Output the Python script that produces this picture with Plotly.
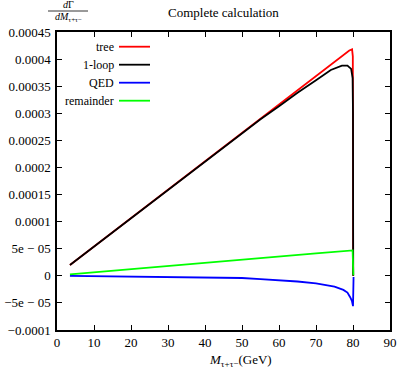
import plotly.graph_objects as go

# | data section |
tree_x = [3.5, 10, 20, 30, 40, 50, 60, 70, 75, 79.0, 79.75, 79.95, 80.05]
tree_y = [2.0e-5, 5.4e-5, 1.07e-4, 1.59e-4, 2.12e-4, 2.64e-4, 3.17e-4,
          3.69e-4, 3.95e-4, 4.16e-4, 4.18e-4, 4.05e-4, 0.0]

loop_x = [3.5, 10, 20, 30, 40, 50, 55, 60, 65, 70, 74, 77, 78.5, 79.5,
          79.9, 80.0, 80.05]
loop_y = [2.0e-5, 5.4e-5, 1.07e-4, 1.59e-4, 2.12e-4, 2.64e-4, 2.89e-4,
          3.13e-4, 3.38e-4, 3.61e-4, 3.80e-4, 3.88e-4, 3.88e-4, 3.82e-4,
          3.65e-4, 3.0e-4, 0.0]

qed_x = [3.5, 10, 20, 30, 40, 50, 55, 60, 65, 70, 73, 75, 77.4, 78.5,
         79.2, 79.7, 80.0, 80.15]
qed_y = [0.0, -0.05e-5, -0.1e-5, -0.15e-5, -0.2e-5, -0.4e-5, -0.6e-5,
         -0.8e-5, -1.05e-5, -1.4e-5, -1.7e-5, -2.0e-5, -2.6e-5, -3.1e-5,
         -3.9e-5, -4.6e-5, -5.6e-5, -0.2e-5]

rem_x = [3.5, 10, 20, 30, 40, 50, 60, 70, 79.9, 80.1]
rem_y = [0.26e-5, 0.65e-5, 1.25e-5, 1.85e-5, 2.45e-5, 3.05e-5, 3.6e-5,
         4.15e-5, 4.7e-5, 0.1e-5]

series_names = ["tree", "1-loop", "QED", "remainder"]
series_colors = ["#ff0000", "#000000", "#0000ff", "#00ff00"]

x_ticks = [0, 10, 20, 30, 40, 50, 60, 70, 80, 90]
y_ticks = [-0.0001, -0.00005, 0, 0.00005, 0.0001, 0.00015, 0.0002,
           0.00025, 0.0003, 0.00035, 0.0004, 0.00045]
y_ticktext = ["\u22120.0001", "\u22125e \u2212 05", "0", "5e \u2212 05",
              "0.0001", "0.00015", "0.0002", "0.00025", "0.0003",
              "0.00035", "0.0004", "0.00045"]

# | layout helpers (pixel -> paper) |
W, H = 399, 372
L, R, T, B = 57, 390, 32, 330


def px(x):
    return (x - L) / (R - L)


def py(y):
    return (B - y) / (B - T)


FONT = "Liberation Serif, Times New Roman, serif"

fig = go.Figure()
for xs, ys, name, color in zip(
    [tree_x, loop_x, qed_x, rem_x],
    [tree_y, loop_y, qed_y, rem_y],
    series_names,
    series_colors,
):
    fig.add_trace(
        go.Scatter(
            x=xs, y=ys, name=name, mode="lines",
            line={"color": color, "width": 1.8},
            showlegend=False,
        )
    )

# gnuplot-style key: text right, sample line on the right
annotations = []
shapes = []
for i, (name, color) in enumerate(zip(series_names, series_colors)):
    yy = 46.7 + i * 18
    annotations.append(dict(
        x=px(116), y=py(yy), xref="paper", yref="paper", text=name,
        showarrow=False, xanchor="right", yanchor="middle",
        font={"family": FONT, "size": 12, "color": "black"},
    ))
    shapes.append(dict(
        type="line", xref="paper", yref="paper",
        x0=px(119), x1=px(150), y0=py(yy), y1=py(yy),
        line={"color": color, "width": 1.8},
    ))

# y label as a fraction in the top-left corner
annotations.append(dict(
    x=px(68), y=py(5), xref="paper", yref="paper", text="<i>d</i>\u0393",
    showarrow=False, xanchor="center", yanchor="middle",
    font={"family": FONT, "size": 10, "color": "black"},
))
annotations.append(dict(
    x=px(68), y=py(18), xref="paper", yref="paper",
    text="<i>dM</i><sub>\u03c4+\u03c4\u2212</sub>",
    showarrow=False, xanchor="center", yanchor="middle",
    font={"family": FONT, "size": 10, "color": "black"},
))
shapes.append(dict(
    type="line", xref="paper", yref="paper",
    x0=px(48), x1=px(88), y0=py(11), y1=py(11),
    line={"color": "black", "width": 0.8},
))
# x axis title
annotations.append(dict(
    x=px(240), y=py(360), xref="paper", yref="paper",
    text="<i>M</i><sub>\u03c4+\u03c4\u2212</sub>(GeV)",
    showarrow=False, xanchor="center", yanchor="middle",
    font={"family": FONT, "size": 13, "color": "black"},
))
annotations.append(dict(
    x=0.5, y=py(12), xref="paper", yref="paper",
    text="Complete calculation",
    showarrow=False, xanchor="center", yanchor="middle",
    font={"family": FONT, "size": 13, "color": "black"},
))

axis_common = dict(
    showgrid=False, zeroline=False, showline=True, linecolor="black",
    linewidth=1.5, mirror="ticks", ticks="inside", ticklen=5,
    tickcolor="black", tickwidth=1, automargin=False,
    tickfont={"family": FONT, "size": 13, "color": "black"},
)

fig.update_xaxes(range=[0, 90], tickvals=x_ticks, **axis_common)
fig.update_yaxes(range=[-0.0001, 0.00045], tickvals=y_ticks,
                 ticktext=y_ticktext, ticklabelstandoff=2, **axis_common)

fig.update_layout(
    width=W, height=H,
    margin={"l": L, "r": W - R, "t": T, "b": H - B},
    paper_bgcolor="white", plot_bgcolor="white",
    showlegend=False,
    annotations=annotations, shapes=shapes,
    font={"family": FONT},
)

# drop the default page margin so the figure sits at the window corner
fig.write_html(
    "out.html",
    config={"displayModeBar": False},
    post_script="document.body.style.margin='0';"
                "document.body.style.overflow='hidden';",
)
